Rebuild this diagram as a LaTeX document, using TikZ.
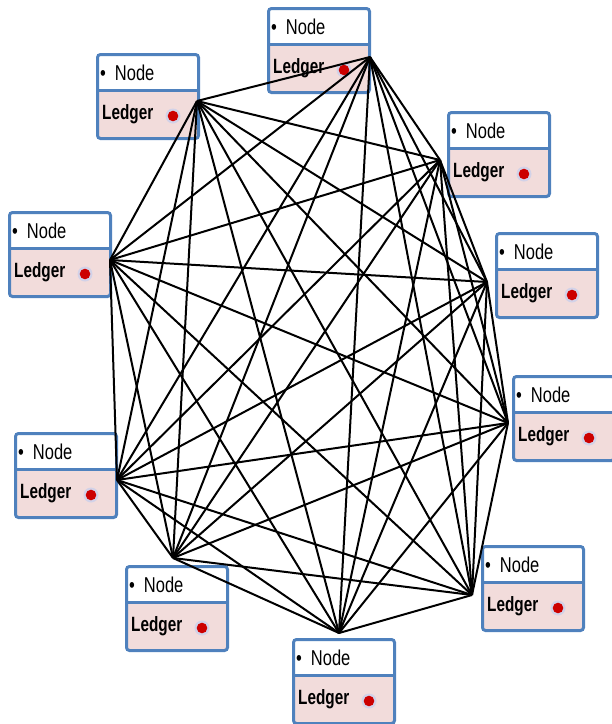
\documentclass[tikz,border=0pt]{standalone}
\usepackage{fontspec}
\setmainfont{Liberation Sans}
\usepackage{graphicx}
\definecolor{bordblue}{RGB}{79,129,189}
\definecolor{ledpink}{RGB}{242,220,219}
\definecolor{dotred}{RGB}{204,0,0}
\definecolor{halo}{RGB}{210,210,232}
\tikzset{
  lbox/.style={draw=bordblue, line width=3pt, fill=ledpink, rounded corners=3pt,
    minimum width=101pt, minimum height=84pt, inner sep=0pt, anchor=north west,
    path picture={
      \fill[white] (path picture bounding box.north west) rectangle ([yshift=-36pt]path picture bounding box.north east);
      \draw[bordblue, line width=3pt] ([yshift=-36pt]path picture bounding box.north west) -- ([yshift=-36pt]path picture bounding box.north east);
    }},
  nodetxt/.style={anchor=west, inner sep=0pt, font=\fontsize{16.5}{17}\selectfont},
  ledtxt/.style={anchor=west, inner sep=0pt, font=\fontsize{15.3}{17}\selectfont\bfseries},
  edge/.style={black, line width=2pt},
}
\newcommand\ledgerbox[3]{%
  \node[lbox] (#1) at (#2,#3) {};
  \node[nodetxt] (#1n) at ([xshift=4pt,yshift=-20pt]#1.north west) {\scalebox{1}[1.3]{\textbullet\hspace{9pt}Node}};
  \node[ledtxt] (#1l) at ([xshift=6pt,yshift=-61pt]#1.north west) {\scalebox{1}[1.35]{Ledger}};
  \fill[halo] ([xshift=77pt,yshift=-63pt]#1.north west) circle (7.5pt);
  \fill[dotred] ([xshift=77pt,yshift=-63pt]#1.north west) circle (5.3pt);
}
\begin{document}
\begin{tikzpicture}[x=1pt,y=-1pt]
\useasboundingbox (0,0) rectangle (612,724);
\ledgerbox{b1}{267}{7}
\ledgerbox{b2}{96}{53}
\ledgerbox{b3}{8}{211}
\ledgerbox{b9}{14}{432}
\ledgerbox{b10}{125}{565}
\ledgerbox{b4}{292}{638}
\ledgerbox{b6}{481}{545}
\ledgerbox{b8}{512}{375}
\ledgerbox{b7}{495}{232}
\ledgerbox{b5}{447}{111}
\coordinate (c1) at (370,57);
\coordinate (c2) at (197,101);
\coordinate (c3) at (110,260);
\coordinate (c4) at (339,633);
\coordinate (c5) at (440,160);
\coordinate (c6) at (472,595);
\coordinate (c7) at (487,282);
\coordinate (c8) at (508,423);
\coordinate (c9) at (117,480);
\coordinate (c10) at (173,558);
\foreach \i in {1,...,9}{
  \pgfmathtruncatemacro\s{\i+1}
  \foreach \j in {\s,...,10}{\draw[edge] (c\i) -- (c\j);}
}
\end{tikzpicture}
\end{document}
